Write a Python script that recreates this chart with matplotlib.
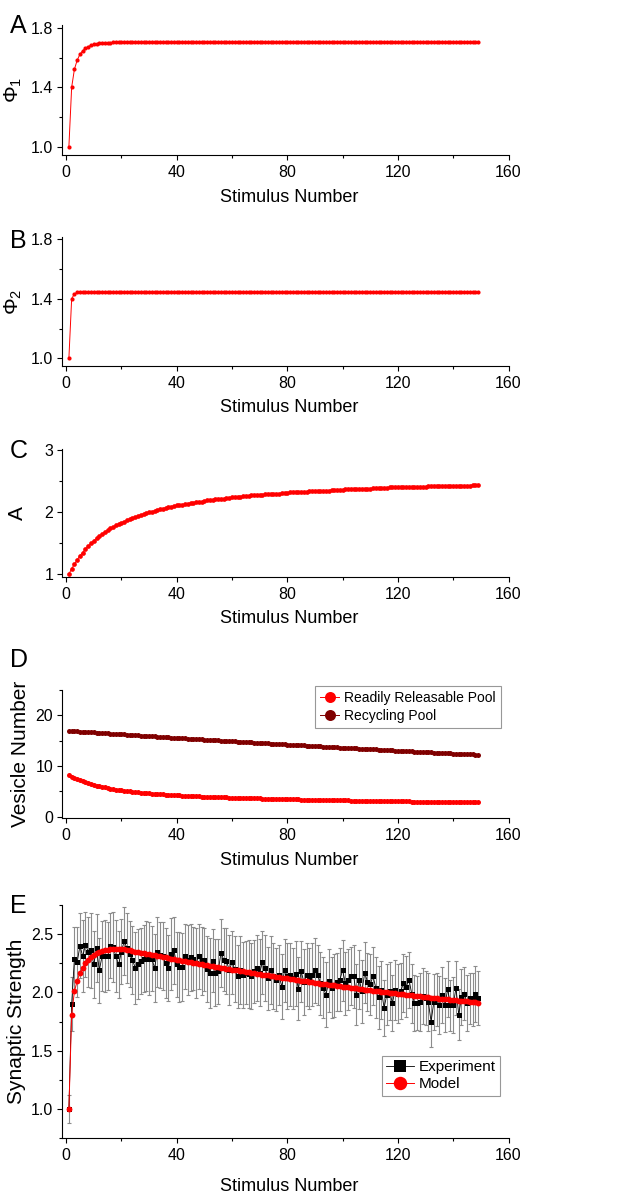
import numpy as np
import matplotlib
matplotlib.use('Agg')
from matplotlib import pyplot as plt
from matplotlib.ticker import MultipleLocator, FormatStrFormatter

plt.rcParams['font.family'] = ['Liberation Sans', 'DejaVu Sans']
plt.rcParams['mathtext.fontset'] = 'custom'
plt.rcParams['mathtext.rm'] = 'Liberation Sans'
plt.rcParams['axes.linewidth'] = 0.8

stimulus = np.arange(1, 150)

# facilitation terms
phi1 = [1.000, 1.400, 1.522, 1.583, 1.623, 1.647, 1.663, 1.675, 1.683, 1.689,
        1.693, 1.696, 1.698, 1.700, 1.701, 1.702, 1.703, 1.704, 1.704, 1.705] + [1.705] * 129
phi2 = [1.000, 1.400, 1.433, 1.443, 1.446] + [1.447] * 144

# augmentation
aug = [1.00, 1.09, 1.16, 1.23, 1.30, 1.35, 1.41, 1.45, 1.50, 1.54,
       1.58, 1.61, 1.65, 1.68, 1.71, 1.74, 1.76, 1.79, 1.81, 1.83,
       1.85, 1.87, 1.89, 1.91, 1.92, 1.94, 1.96, 1.97, 1.98, 2.00,
       2.01, 2.02, 2.04, 2.05, 2.06, 2.07, 2.08, 2.09, 2.10, 2.11,
       2.11, 2.12, 2.13, 2.14, 2.15, 2.15, 2.16, 2.17, 2.17, 2.18,
       2.19, 2.19, 2.20, 2.21, 2.21, 2.22, 2.22, 2.23, 2.23, 2.24,
       2.24, 2.25, 2.25, 2.26, 2.26, 2.26, 2.27, 2.27, 2.28, 2.28,
       2.28, 2.29, 2.29, 2.29, 2.30, 2.30, 2.30, 2.31, 2.31, 2.31,
       2.32, 2.32, 2.32, 2.33, 2.33, 2.33, 2.33, 2.34, 2.34, 2.34,
       2.34, 2.35, 2.35, 2.35, 2.35, 2.36, 2.36, 2.36, 2.36, 2.36,
       2.37, 2.37, 2.37, 2.37, 2.38, 2.38, 2.38, 2.38, 2.38, 2.38,
       2.39, 2.39, 2.39, 2.39, 2.39, 2.39, 2.40, 2.40, 2.40, 2.40,
       2.40, 2.40, 2.41, 2.41, 2.41, 2.41, 2.41, 2.41, 2.41, 2.41,
       2.42, 2.42, 2.42, 2.42, 2.42, 2.42, 2.42, 2.43, 2.43, 2.43,
       2.43, 2.43, 2.43, 2.43, 2.43, 2.43, 2.44, 2.44, 2.44]

# vesicle pools
rrp = [8.2, 7.9, 7.7, 7.4, 7.2, 7.0, 6.8, 6.6, 6.4, 6.3,
       6.1, 6.0, 5.9, 5.8, 5.6, 5.5, 5.4, 5.3, 5.3, 5.2,
       5.1, 5.0, 5.0, 4.9, 4.8, 4.8, 4.7, 4.7, 4.6, 4.6,
       4.5, 4.5, 4.4, 4.4, 4.4, 4.3, 4.3, 4.3, 4.2, 4.2,
       4.2, 4.1, 4.1, 4.1, 4.0, 4.0, 4.0, 4.0, 3.9, 3.9,
       3.9, 3.9, 3.9, 3.8, 3.8, 3.8, 3.8, 3.8, 3.7, 3.7,
       3.7, 3.7, 3.7, 3.7, 3.6, 3.6, 3.6, 3.6, 3.6, 3.6,
       3.5, 3.5, 3.5, 3.5, 3.5, 3.5, 3.4, 3.4, 3.4, 3.4,
       3.4, 3.4, 3.4, 3.4, 3.3, 3.3, 3.3, 3.3, 3.3, 3.3,
       3.3, 3.3, 3.2, 3.2, 3.2, 3.2, 3.2, 3.2, 3.2, 3.2,
       3.2, 3.2, 3.1, 3.1, 3.1, 3.1, 3.1, 3.1, 3.1, 3.1,
       3.1, 3.1, 3.0, 3.0, 3.0, 3.0, 3.0, 3.0, 3.0, 3.0,
       3.0, 3.0, 3.0, 3.0, 2.9, 2.9, 2.9, 2.9, 2.9, 2.9,
       2.9, 2.9, 2.9, 2.9, 2.9, 2.9, 2.9, 2.9, 2.9, 2.8,
       2.8, 2.8, 2.8, 2.8, 2.8, 2.8, 2.8, 2.8, 2.8]
recycling = [17.0, 17.0, 16.9, 16.9, 16.8, 16.8, 16.8, 16.7, 16.7, 16.7,
             16.6, 16.6, 16.5, 16.5, 16.5, 16.4, 16.4, 16.4, 16.3, 16.3,
             16.3, 16.2, 16.2, 16.1, 16.1, 16.1, 16.0, 16.0, 16.0, 15.9,
             15.9, 15.9, 15.8, 15.8, 15.8, 15.7, 15.7, 15.6, 15.6, 15.6,
             15.5, 15.5, 15.5, 15.4, 15.4, 15.4, 15.3, 15.3, 15.3, 15.2,
             15.2, 15.2, 15.1, 15.1, 15.1, 15.0, 15.0, 15.0, 14.9, 14.9,
             14.9, 14.8, 14.8, 14.8, 14.7, 14.7, 14.7, 14.6, 14.6, 14.6,
             14.5, 14.5, 14.5, 14.4, 14.4, 14.4, 14.3, 14.3, 14.3, 14.2,
             14.2, 14.2, 14.1, 14.1, 14.1, 14.1, 14.0, 14.0, 14.0, 13.9,
             13.9, 13.9, 13.8, 13.8, 13.8, 13.7, 13.7, 13.7, 13.6, 13.6,
             13.6, 13.6, 13.5, 13.5, 13.5, 13.4, 13.4, 13.4, 13.3, 13.3,
             13.3, 13.3, 13.2, 13.2, 13.2, 13.1, 13.1, 13.1, 13.0, 13.0,
             13.0, 13.0, 12.9, 12.9, 12.9, 12.8, 12.8, 12.8, 12.8, 12.7,
             12.7, 12.7, 12.6, 12.6, 12.6, 12.6, 12.5, 12.5, 12.5, 12.4,
             12.4, 12.4, 12.4, 12.3, 12.3, 12.3, 12.3, 12.2, 12.2]

# synaptic strength, recorded and simulated
experiment = [1.00, 1.90, 2.29, 2.26, 2.40, 2.31, 2.41, 2.35, 2.36, 2.24,
              2.38, 2.19, 2.31, 2.31, 2.31, 2.40, 2.39, 2.31, 2.24, 2.35,
              2.44, 2.38, 2.33, 2.28, 2.21, 2.24, 2.27, 2.29, 2.31, 2.29,
              2.29, 2.21, 2.35, 2.32, 2.31, 2.25, 2.21, 2.33, 2.36, 2.24,
              2.22, 2.22, 2.31, 2.28, 2.30, 2.29, 2.25, 2.31, 2.27, 2.28,
              2.20, 2.17, 2.27, 2.17, 2.18, 2.34, 2.28, 2.27, 2.19, 2.26,
              2.20, 2.14, 2.19, 2.15, 2.17, 2.16, 2.14, 2.18, 2.21, 2.17,
              2.26, 2.21, 2.12, 2.19, 2.14, 2.11, 2.15, 2.05, 2.19, 2.14,
              2.15, 2.12, 2.16, 2.03, 2.18, 2.09, 2.15, 2.12, 2.15, 2.19,
              2.15, 2.08, 2.04, 1.98, 2.10, 2.04, 2.06, 2.09, 2.11, 2.19,
              2.08, 2.11, 2.14, 2.14, 1.98, 2.11, 2.01, 2.17, 2.09, 2.07,
              2.14, 2.04, 1.96, 2.02, 1.87, 1.98, 2.01, 1.91, 2.02, 1.99,
              2.01, 2.08, 2.05, 2.11, 1.99, 1.91, 1.91, 1.92, 1.97, 1.95,
              1.92, 1.75, 1.92, 1.94, 1.89, 1.98, 1.89, 2.03, 1.89, 1.89,
              2.04, 1.81, 1.96, 1.99, 1.91, 1.95, 1.94, 1.99, 1.95]
experiment_err = [0.12, 0.23, 0.27, 0.30, 0.28, 0.31, 0.28, 0.30, 0.32, 0.29,
                  0.29, 0.28, 0.30, 0.31, 0.29, 0.28, 0.30, 0.31, 0.29, 0.28,
                  0.29, 0.30, 0.28, 0.29, 0.31, 0.30, 0.28, 0.29, 0.30, 0.31,
                  0.28, 0.29, 0.30, 0.28, 0.29, 0.30, 0.28, 0.31, 0.29, 0.28,
                  0.30, 0.29, 0.28, 0.30, 0.29, 0.27, 0.30, 0.28, 0.29, 0.27,
                  0.28, 0.30, 0.27, 0.29, 0.28, 0.29, 0.27, 0.28, 0.30, 0.27,
                  0.28, 0.27, 0.29, 0.28, 0.27, 0.29, 0.28, 0.27, 0.28, 0.29,
                  0.27, 0.28, 0.27, 0.29, 0.28, 0.27, 0.26, 0.28, 0.27, 0.28,
                  0.27, 0.26, 0.28, 0.27, 0.26, 0.28, 0.27, 0.26, 0.27, 0.28,
                  0.26, 0.27, 0.26, 0.28, 0.27, 0.26, 0.27, 0.25, 0.27, 0.26,
                  0.27, 0.26, 0.25, 0.27, 0.26, 0.25, 0.27, 0.26, 0.25, 0.26,
                  0.25, 0.26, 0.27, 0.25, 0.24, 0.26, 0.25, 0.24, 0.26, 0.25,
                  0.24, 0.25, 0.26, 0.24, 0.25, 0.24, 0.23, 0.25, 0.24, 0.23,
                  0.25, 0.22, 0.24, 0.23, 0.25, 0.24, 0.23, 0.24, 0.22, 0.24,
                  0.23, 0.22, 0.24, 0.23, 0.24, 0.22, 0.23, 0.24, 0.23]
model = [1.00, 1.81, 2.01, 2.10, 2.17, 2.21, 2.25, 2.28, 2.30, 2.32,
         2.335, 2.345, 2.355, 2.362, 2.367, 2.371, 2.374, 2.375, 2.374, 2.372,
         2.369, 2.365, 2.360, 2.356, 2.351, 2.346, 2.342, 2.337, 2.332, 2.328,
         2.323, 2.318, 2.314, 2.309, 2.305, 2.300, 2.296, 2.291, 2.287, 2.282,
         2.278, 2.273, 2.269, 2.265, 2.260, 2.256, 2.252, 2.247, 2.243, 2.239,
         2.234, 2.230, 2.226, 2.222, 2.218, 2.214, 2.209, 2.205, 2.201, 2.197,
         2.193, 2.189, 2.185, 2.181, 2.177, 2.173, 2.169, 2.165, 2.161, 2.158,
         2.154, 2.150, 2.146, 2.142, 2.139, 2.135, 2.131, 2.127, 2.124, 2.120,
         2.116, 2.113, 2.109, 2.106, 2.102, 2.098, 2.095, 2.091, 2.088, 2.084,
         2.081, 2.077, 2.074, 2.071, 2.067, 2.064, 2.061, 2.057, 2.054, 2.051,
         2.047, 2.044, 2.041, 2.038, 2.035, 2.031, 2.028, 2.025, 2.022, 2.019,
         2.016, 2.013, 2.010, 2.007, 2.004, 2.001, 1.998, 1.995, 1.992, 1.989,
         1.986, 1.983, 1.981, 1.978, 1.975, 1.972, 1.970, 1.967, 1.964, 1.961,
         1.959, 1.956, 1.953, 1.951, 1.948, 1.946, 1.943, 1.941, 1.938, 1.936,
         1.933, 1.931, 1.928, 1.926, 1.923, 1.921, 1.919, 1.916, 1.914]

RED = '#ff0000'
WINE = '#800000'

W, H = 644, 1193
LEFT, RIGHT = 61.7, 508.5

fig = plt.figure(figsize=(W / 100, H / 100), dpi=100)


def add_panel(top, bottom, ylim, yticks, yminor, ylabel, letter, letter_base, label_x, xlabel_drop):
    ax = fig.add_axes([LEFT / W, 1 - bottom / H, (RIGHT - LEFT) / W, (bottom - top) / H])
    ax.spines['top'].set_visible(False)
    ax.spines['right'].set_visible(False)
    ax.set_xlim(-1.6, 160)
    ax.set_ylim(*ylim)
    ax.xaxis.set_major_locator(MultipleLocator(40))
    ax.xaxis.set_minor_locator(MultipleLocator(20))
    ax.set_yticks(yticks)
    ax.yaxis.set_minor_locator(MultipleLocator(yminor))
    ax.tick_params(which='major', length=3.6, width=0.8, labelsize=11.5)
    ax.tick_params(which='minor', length=2.2, width=0.8)
    ax.tick_params(axis='x', pad=3.5)
    ax.tick_params(axis='y', pad=2.4)
    ax.set_xlabel('Stimulus Number', fontsize=13, va='baseline')
    ax.xaxis.set_label_coords(0.51, -xlabel_drop / (bottom - top))
    ax.set_ylabel(ylabel, fontsize=15, va='center')
    ax.yaxis.set_label_coords((label_x - LEFT) / (RIGHT - LEFT), 0.5)
    fig.text(10 / W, 1 - letter_base / H, letter, fontsize=18, ha='left', va='baseline')
    return ax


# A: Phi1
ax = add_panel(25, 155, (0.944, 1.82), [1.0, 1.4, 1.8], 0.2, r'$\mathrm{\Phi_1}$', 'A', 33, 13, 47)
ax.plot(stimulus, phi1, '-o', color=RED, lw=0.7, ms=3.0, mew=0)
ax.yaxis.set_major_formatter(FormatStrFormatter('%.1f'))

# B: Phi2
ax = add_panel(237.3, 365.7, (0.95, 1.813), [1.0, 1.4, 1.8], 0.2, r'$\mathrm{\Phi_2}$', 'B', 248, 13, 46)
ax.plot(stimulus, phi2, '-o', color=RED, lw=0.7, ms=3.0, mew=0)
ax.yaxis.set_major_formatter(FormatStrFormatter('%.1f'))

# C: augmentation
ax = add_panel(449, 576.7, (0.96, 3.02), [1, 2, 3], 0.5, 'A', 'C', 458, 17, 46.5)
ax.plot(stimulus, aug, '-o', color=RED, lw=0.7, ms=3.4, mew=0)

# D: vesicle pools
ax = add_panel(690, 817.7, (-0.2, 25), [0, 10, 20], 5, 'Vesicle Number', 'D', 667, 21, 47)
ax.plot(stimulus, rrp, '-o', color=RED, lw=0.7, ms=3.6, mew=0,
        label='Readily Releasable Pool')
ax.plot(stimulus, recycling, '-o', color=WINE, lw=0.7, ms=3.6, mew=0,
        label='Recycling Pool')
leg = ax.legend(loc='upper right', bbox_to_anchor=((500.7 - LEFT) / (RIGHT - LEFT), (817.7 - 686) / 127.7),
                borderaxespad=0, fontsize=10, markerscale=2.2, handlelength=1.4,
                handletextpad=0.35, borderpad=0.35, labelspacing=0.3, fancybox=False)
leg.get_frame().set_edgecolor('#7f7f7f')
leg.get_frame().set_linewidth(0.8)

# E: synaptic strength
ax = add_panel(905, 1138.3, (0.75, 2.75), [1.0, 1.5, 2.0, 2.5], 0.25, 'Synaptic Strength', 'E', 913, 17, 53)
ax.errorbar(stimulus, experiment, yerr=experiment_err, fmt='none', ecolor='#8c8c8c',
            elinewidth=0.8, capsize=1.3, capthick=0.8, zorder=1)
ax.plot(stimulus, experiment, '-s', color='black', lw=0.6, ms=3.6, mew=0,
        label='Experiment', zorder=2)
ax.plot(stimulus, model, '-o', color=RED, lw=0.7, ms=4.2, mew=0,
        label='Model', zorder=3)
ax.yaxis.set_major_formatter(FormatStrFormatter('%.1f'))
leg = ax.legend(loc='upper right', bbox_to_anchor=((500 - LEFT) / (RIGHT - LEFT), (1138.3 - 1055.7) / 233.3),
                borderaxespad=0, fontsize=11, markerscale=2.3, handlelength=1.8,
                handletextpad=0.3, borderpad=0.3, labelspacing=0.2, fancybox=False)
leg.get_frame().set_edgecolor('#7f7f7f')
leg.get_frame().set_linewidth(0.8)

plt.savefig('out.png', dpi=100)
